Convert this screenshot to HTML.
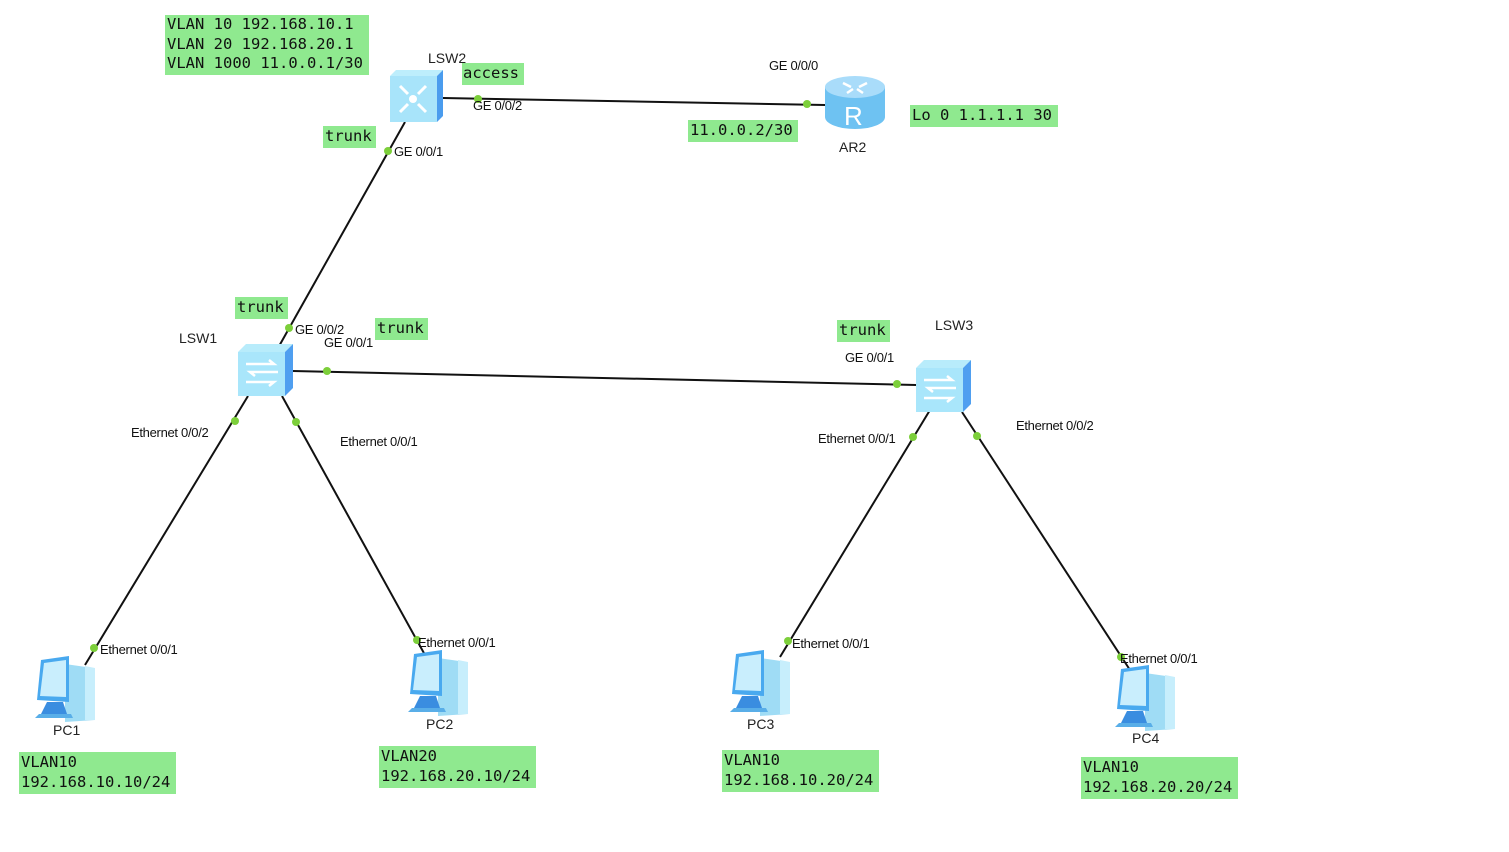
<!DOCTYPE html>
<html><head><meta charset="utf-8"><style>
html,body{margin:0;padding:0;background:#fff;width:1509px;height:852px;overflow:hidden}
svg{display:block}
.m{font-family:"DejaVu Sans Mono","Liberation Mono",monospace;font-size:15.5px;fill:#111}
.p{font-family:"Liberation Sans",sans-serif;font-size:13px;fill:#111;letter-spacing:-0.3px}
.n{font-family:"Liberation Sans",sans-serif;font-size:14px;fill:#222}
.g{fill:#8fe98f}
.d{fill:#7ccf3a}
line{stroke:#111;stroke-width:2}
</style></head><body>
<svg width="1509" height="852" viewBox="0 0 1509 852">
<defs>
<g id="sw">
 <polygon points="0,8 8,0 55,0 47,8" fill="#b8ecfb"/>
 <rect x="0" y="8" width="47" height="44" fill="#a9e6fb"/>
 <polygon points="47,8 55,0 55,44 47,52" fill="#4f9ff0"/>
 <path d="M8,20 h28 l-5,-4 M40,28 h-28 l5,4 M8,38 h28 l-5,4" stroke="#fff" stroke-width="2.5" fill="none"/>
</g>
<g id="pc">
 <polygon points="30,8 58,12 60,64 30,66" fill="#9fdcf5"/>
 <polygon points="50,10 60,12 60,64 50,64" fill="#c7eefc"/>
 <polygon points="6,4 34,0 34,46 2,44" fill="#49a9ef"/>
 <polygon points="9,7 31,4 31,41 5,40" fill="#c9eefd"/>
 <polygon points="12,46 28,46 32,58 6,58" fill="#3a8de0"/>
 <polygon points="4,58 36,58 38,62 0,62" fill="#59aee8"/>
</g>
</defs>

<line x1="443" y1="98" x2="825" y2="105"/>
<line x1="405" y1="122" x2="278" y2="348"/>
<line x1="293" y1="371" x2="916" y2="385"/>
<line x1="248" y1="396" x2="85" y2="665"/>
<line x1="282" y1="396" x2="425" y2="655"/>
<line x1="930" y1="410" x2="780" y2="657"/>
<line x1="962" y1="412" x2="1130" y2="670"/>

<g transform="translate(390,70)">
 <polygon points="0,6 6,0 53,0 47,6" fill="#bdeefc"/>
 <rect x="0" y="6" width="47" height="46" fill="#a8e4fa"/>
 <polygon points="47,6 53,0 53,46 47,52" fill="#4a9cee"/>
 <circle cx="23" cy="29" r="4" fill="#fff"/>
 <path d="M10,16 l8,8 M36,16 l-8,8 M10,42 l8,-8 M36,42 l-8,-8" stroke="#fff" stroke-width="3"/>
</g>
<use href="#sw" x="238" y="344"/>
<use href="#sw" x="916" y="360"/>
<g transform="translate(825,75)">
 <path d="M0,12 v30 a30,12 0 0 0 60,0 v-30 z" fill="#6ec2f2"/>
 <ellipse cx="30" cy="12" rx="30" ry="11" fill="#a9dcfa"/>
 <path d="M18,8 l8,4 M42,8 l-8,4 M22,18 l6,-4 M38,18 l-6,-4" stroke="#fff" stroke-width="2.5"/>
 <text x="19" y="50" font-family="Liberation Sans,sans-serif" font-size="26" fill="#fff">R</text>
</g>
<use href="#pc" x="35" y="656"/>
<use href="#pc" x="408" y="650"/>
<use href="#pc" x="730" y="650"/>
<use href="#pc" x="1115" y="665"/>

<g class="d">
<circle cx="478" cy="99" r="4"/><circle cx="807" cy="104" r="4"/>
<circle cx="388" cy="151" r="4"/><circle cx="289" cy="328" r="4"/>
<circle cx="327" cy="371" r="4"/><circle cx="897" cy="384" r="4"/>
<circle cx="235" cy="421" r="4"/><circle cx="94" cy="648" r="4"/>
<circle cx="296" cy="422" r="4"/><circle cx="417" cy="640" r="4"/>
<circle cx="913" cy="437" r="4"/><circle cx="788" cy="641" r="4"/>
<circle cx="977" cy="436" r="4"/><circle cx="1121" cy="657" r="4"/>
</g>

<rect class="g" x="165" y="15" width="204" height="60"/>
<text class="m" x="167" y="29">VLAN 10 192.168.10.1</text>
<text class="m" x="167" y="49">VLAN 20 192.168.20.1</text>
<text class="m" x="167" y="68">VLAN 1000 11.0.0.1/30</text>
<rect class="g" x="462" y="63" width="62" height="22"/><text class="m" x="463" y="78">access</text>
<rect class="g" x="323" y="126" width="53" height="22"/><text class="m" x="325" y="141">trunk</text>
<rect class="g" x="688" y="120" width="110" height="22"/><text class="m" x="690" y="135">11.0.0.2/30</text>
<rect class="g" x="910" y="105" width="148" height="22"/><text class="m" x="912" y="120">Lo 0 1.1.1.1 30</text>
<rect class="g" x="235" y="297" width="53" height="22"/><text class="m" x="237" y="312">trunk</text>
<rect class="g" x="375" y="318" width="53" height="22"/><text class="m" x="377" y="333">trunk</text>
<rect class="g" x="837" y="320" width="53" height="22"/><text class="m" x="839" y="335">trunk</text>
<rect class="g" x="19" y="752" width="157" height="42"/><text class="m" x="21" y="767">VLAN10</text><text class="m" x="21" y="787">192.168.10.10/24</text>
<rect class="g" x="379" y="746" width="157" height="42"/><text class="m" x="381" y="761">VLAN20</text><text class="m" x="381" y="781">192.168.20.10/24</text>
<rect class="g" x="722" y="750" width="157" height="42"/><text class="m" x="724" y="765">VLAN10</text><text class="m" x="724" y="785">192.168.10.20/24</text>
<rect class="g" x="1081" y="757" width="157" height="42"/><text class="m" x="1083" y="772">VLAN10</text><text class="m" x="1083" y="792">192.168.20.20/24</text>

<text class="n" x="428" y="63">LSW2</text>
<text class="n" x="839" y="152">AR2</text>
<text class="n" x="179" y="343">LSW1</text>
<text class="n" x="935" y="330">LSW3</text>
<text class="n" x="53" y="735">PC1</text>
<text class="n" x="426" y="729">PC2</text>
<text class="n" x="747" y="729">PC3</text>
<text class="n" x="1132" y="743">PC4</text>

<text class="p" x="473" y="110">GE 0/0/2</text>
<text class="p" x="769" y="70">GE 0/0/0</text>
<text class="p" x="394" y="156">GE 0/0/1</text>
<text class="p" x="295" y="334">GE 0/0/2</text>
<text class="p" x="324" y="347">GE 0/0/1</text>
<text class="p" x="845" y="362">GE 0/0/1</text>
<text class="p" x="131" y="437">Ethernet 0/0/2</text>
<text class="p" x="340" y="446">Ethernet 0/0/1</text>
<text class="p" x="818" y="443">Ethernet 0/0/1</text>
<text class="p" x="1016" y="430">Ethernet 0/0/2</text>
<text class="p" x="100" y="654">Ethernet 0/0/1</text>
<text class="p" x="418" y="647">Ethernet 0/0/1</text>
<text class="p" x="792" y="648">Ethernet 0/0/1</text>
<text class="p" x="1120" y="663">Ethernet 0/0/1</text>
</svg>
</body></html>
